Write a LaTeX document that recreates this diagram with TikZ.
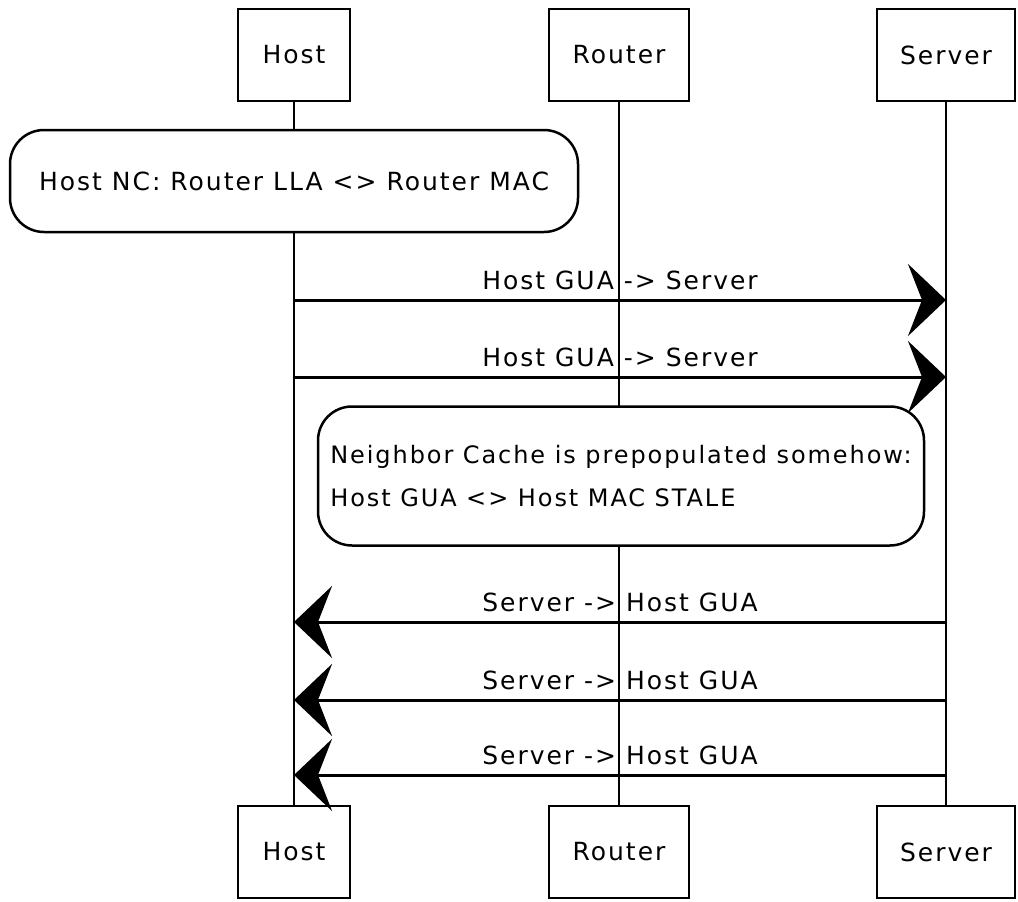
\documentclass[tikz,border=0pt]{standalone}
\usepackage{fontspec}
\setmainfont{DejaVu Sans}
\newfontfamily\sketchfont[LetterSpace=8]{DejaVu Sans}
\usetikzlibrary{arrows.meta}
\begin{document}
\begin{tikzpicture}[x=1pt,y=-1pt,
  every node/.style={font=\sketchfont\fontsize{25}{30}\selectfont},
  actor/.style={draw, line width=2.5pt, fill=white, minimum height=92pt, inner sep=0pt},
  lifeline/.style={line width=1.4pt},
  notebox/.style={draw, line width=2.5pt, fill=white, rounded corners=34pt, inner sep=10pt},
  msg/.style={line width=3pt, -{Stealth[length=38pt,width=72pt,inset=14pt]}},
  msglabel/.style={above=9pt, inner sep=0pt}
]
\useasboundingbox (0,0) rectangle (1018,902);

% participants, top row
\node[actor, minimum width=112pt] (h1) at (294,55)  {Host};
\node[actor, minimum width=140pt] (r1) at (619,55)  {Router};
\node[actor, minimum width=138pt] (s1) at (946,55)  {Server};
% participants, bottom row
\node[actor, minimum width=112pt] (h2) at (294,852) {Host};
\node[actor, minimum width=140pt] (r2) at (619,852) {Router};
\node[actor, minimum width=138pt] (s2) at (946,852) {Server};

% lifelines
\draw[lifeline] (h1.south) -- (h2.north);
\draw[lifeline] (r1.south) -- (r2.north);
\draw[lifeline] (s1.south) -- (s2.north);

% notes over the lifelines
\node[notebox, minimum width=568pt, minimum height=102pt] (n1) at (294,181)
  {Host NC: Router LLA <> Router MAC};
\node[notebox, minimum width=606pt, minimum height=139pt, inner sep=2pt,
      align=left, font=\sketchfont\fontsize{24}{43}\selectfont] (n2) at (621,476)
  {Neighbor Cache is prepopulated somehow:\\Host GUA <> Host MAC STALE};

% message end points on the lifelines
\coordinate (m1a) at (h1.south |- 0,300);
\coordinate (m1b) at (s1.south |- 0,300);
\coordinate (m2a) at (h1.south |- 0,377);
\coordinate (m2b) at (s1.south |- 0,377);
\coordinate (m3a) at (s1.south |- 0,622);
\coordinate (m3b) at (h1.south |- 0,622);
\coordinate (m4a) at (s1.south |- 0,700);
\coordinate (m4b) at (h1.south |- 0,700);
\coordinate (m5a) at (s1.south |- 0,775);
\coordinate (m5b) at (h1.south |- 0,775);

% messages
\draw[msg] (m1a) -- node[msglabel] (l1) {Host GUA -> Server} (m1b);
\draw[msg] (m2a) -- node[msglabel] (l2) {Host GUA -> Server} (m2b);
\draw[msg] (m3a) -- node[msglabel] (l3) {Server -> Host GUA} (m3b);
\draw[msg] (m4a) -- node[msglabel] (l4) {Server -> Host GUA} (m4b);
\draw[msg] (m5a) -- node[msglabel] (l5) {Server -> Host GUA} (m5b);
\end{tikzpicture}
\end{document}
